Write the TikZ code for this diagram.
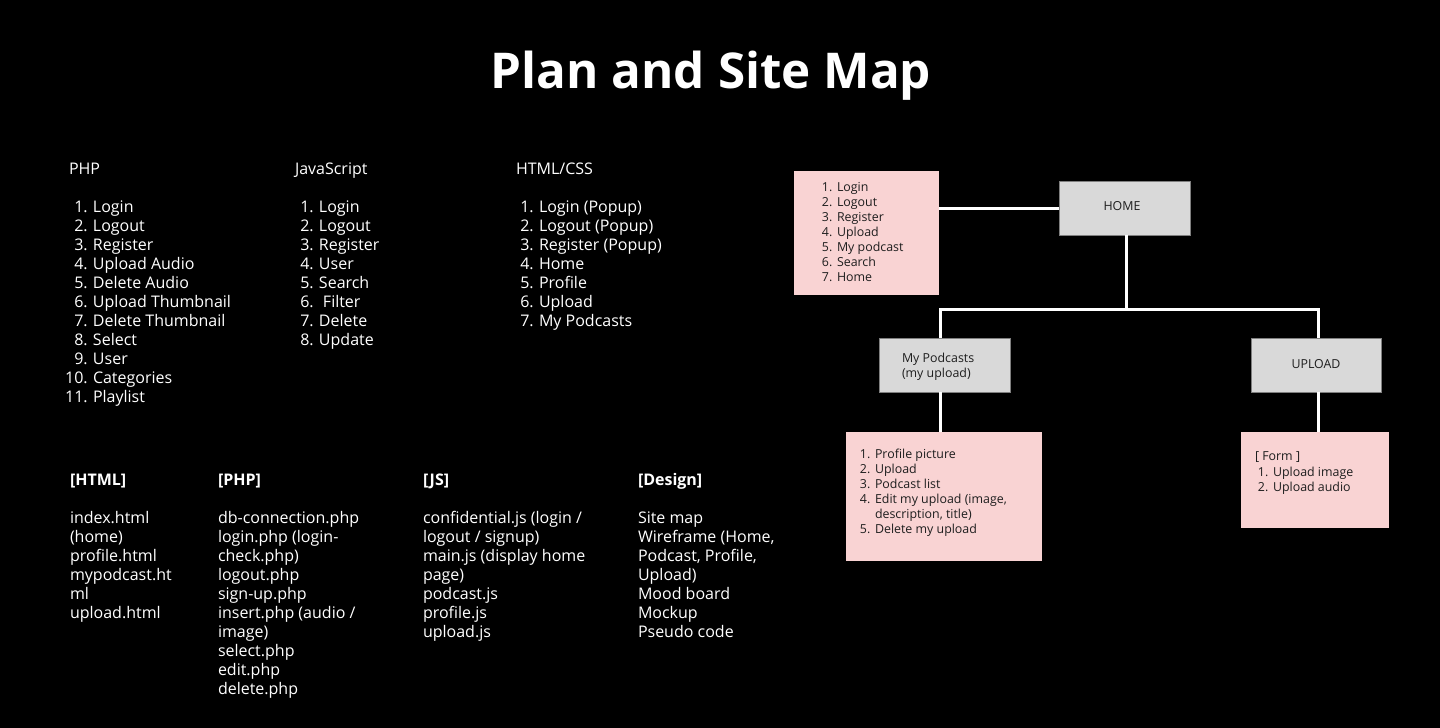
\documentclass[tikz,border=0pt]{standalone}
\usepackage{fontspec}
\setmainfont{Open Sans}
\definecolor{pinkfill}{HTML}{F9D3D3}
\definecolor{grayfill}{HTML}{D9D9D9}
\definecolor{grayedge}{HTML}{7F7F7F}
\definecolor{smalltext}{HTML}{1E1E1E}
\begin{document}
\begin{tikzpicture}[x=0.75pt,y=-0.75pt,
  txt/.style={anchor=base west, inner sep=0, outer sep=0, text=white, font=\fontsize{12}{14}\selectfont},
  hdr/.style={txt, font=\bfseries\fontsize{12}{14}\selectfont},
  sm/.style={anchor=base west, inner sep=0, outer sep=0, text=smalltext, font=\fontsize{9.3}{11}\selectfont},
  smc/.style={sm, anchor=base},
  pinkbox/.style={fill=pinkfill, draw=none, inner sep=0, outer sep=0},
  graybox/.style={fill=grayfill, draw=grayedge, line width=0.75pt, inner sep=0, outer sep=0},
  conn/.style={draw=white, line width=2.25pt}]
\fill[black] (0,0) rectangle (1440,728);
\useasboundingbox (0,0) rectangle (1440,728);

% title
\node[anchor=base, inner sep=0, text=white, font=\bfseries\fontsize{37}{40}\selectfont] (title) at (711,88) {Plan and Site Map};

% PHP
\node[txt] (php) at (69,174) {PHP};
\foreach \t [count=\i] in {Login,Logout,Register,Upload Audio,Delete Audio,Upload Thumbnail,Delete Thumbnail,Select,User,Categories,Playlist}
  \node[txt] (php-\i) at (93,{212+19*(\i-1)}) {\llap{\i.\hspace{4pt}}\t};

% JavaScript
\node[txt] (js) at (295,174) {JavaScript};
\foreach \t [count=\i] in {Login,Logout,Register,User,Search,{\hspace{3pt}Filter},Delete,Update}
  \node[txt] (js-\i) at (319,{212+19*(\i-1)}) {\llap{\i.\hspace{4pt}}\t};

% HTML/CSS
\node[txt] (css) at (516,174) {HTML/CSS};
\foreach \t [count=\i] in {Login (Popup),Logout (Popup),Register (Popup),Home,Profile,Upload,My Podcasts}
  \node[txt] (css-\i) at (539,{212+19*(\i-1)}) {\llap{\i.\hspace{4pt}}\t};

% bottom columns
\node[hdr] (bhtml) at (70,485) {[HTML]};
\foreach \t [count=\i] in {index.html,(home),profile.html,mypodcast.ht,ml,upload.html}
  \node[txt] (bhtml-\i) at (70,{523+19*(\i-1)}) {\t};

\node[hdr] (bphp) at (218,485) {[PHP]};
\foreach \t [count=\i] in {db-connection.php,login.php (login-,check.php),logout.php,sign-up.php,insert.php (audio /,image),select.php,edit.php,delete.php}
  \node[txt] (bphp-\i) at (218,{523+19*(\i-1)}) {\t};

\node[hdr] (bjs) at (423,485) {[JS]};
\foreach \t [count=\i] in {confidential.js (login /,logout / signup),main.js (display home,page),podcast.js,profile.js,upload.js}
  \node[txt] (bjs-\i) at (423,{523+19*(\i-1)}) {\t};

\node[hdr] (bdes) at (638,485) {[Design]};
\foreach \t [count=\i] in {Site map,{Wireframe (Home,},{Podcast, Profile,},Upload),Mood board,Mockup,Pseudo code}
  \node[txt] (bdes-\i) at (638,{523+19*(\i-1)}) {\t};

% site map boxes
\node[pinkbox, minimum width=145*0.75pt, minimum height=124*0.75pt] (menu) at (866.5,233) {};
\foreach \t [count=\i] in {Login,Logout,Register,Upload,My podcast,Search,Home}
  \node[sm] (menu-\i) at (837,{191+15*(\i-1)}) {\llap{\i.\hspace{3.5pt}}\t};

\node[graybox, minimum width=131*0.75pt, minimum height=54*0.75pt] (home) at (1124.5,208) {};
\node[smc] (home-t) at (1122,210) {HOME};

\node[graybox, minimum width=131*0.75pt, minimum height=54*0.75pt] (mypod) at (944.5,365) {};
\node[sm] (mypod-1) at (902,362) {My Podcasts};
\node[sm] (mypod-2) at (902,377) {(my upload)};

\node[graybox, minimum width=130*0.75pt, minimum height=54*0.75pt] (upload) at (1316,365) {};
\node[smc] (upload-t) at (1316,368) {UPLOAD};

\node[pinkbox, minimum width=196*0.75pt, minimum height=129*0.75pt] (podlist) at (944,496.5) {};
\node[sm] (pl-1) at (875,458) {\llap{1.\hspace{3.5pt}}Profile picture};
\node[sm] (pl-2) at (875,473) {\llap{2.\hspace{3.5pt}}Upload};
\node[sm] (pl-3) at (875,488) {\llap{3.\hspace{3.5pt}}Podcast list};
\node[sm] (pl-4) at (875,503) {\llap{4.\hspace{3.5pt}}Edit my upload (image,};
\node[sm] (pl-4b) at (875,518) {description, title)};
\node[sm] (pl-5) at (875,533) {\llap{5.\hspace{3.5pt}}Delete my upload};

\node[pinkbox, minimum width=148*0.75pt, minimum height=96*0.75pt] (form) at (1315,480) {};
\node[sm] (form-h) at (1255,460) {[ Form ]};
\node[sm] (form-1) at (1273,476) {\llap{1.\hspace{3.5pt}}Upload image};
\node[sm] (form-2) at (1273,491) {\llap{2.\hspace{3.5pt}}Upload audio};

% connectors
\coordinate (jl) at (940,309);
\coordinate (jr) at (1318,309);
\coordinate (jh) at (1126,309);
\draw[conn] (menu.east |- home.west) -- (home.west);
\draw[conn] (jh |- home.south) -- (jh);
\draw[conn] (jl |- mypod.north) -- (jl) -- (jr) -- (jr |- upload.north);
\draw[conn] (jl |- mypod.south) -- (jl |- podlist.north);
\draw[conn] (jr |- upload.south) -- (jr |- form.north);
\end{tikzpicture}
\end{document}
